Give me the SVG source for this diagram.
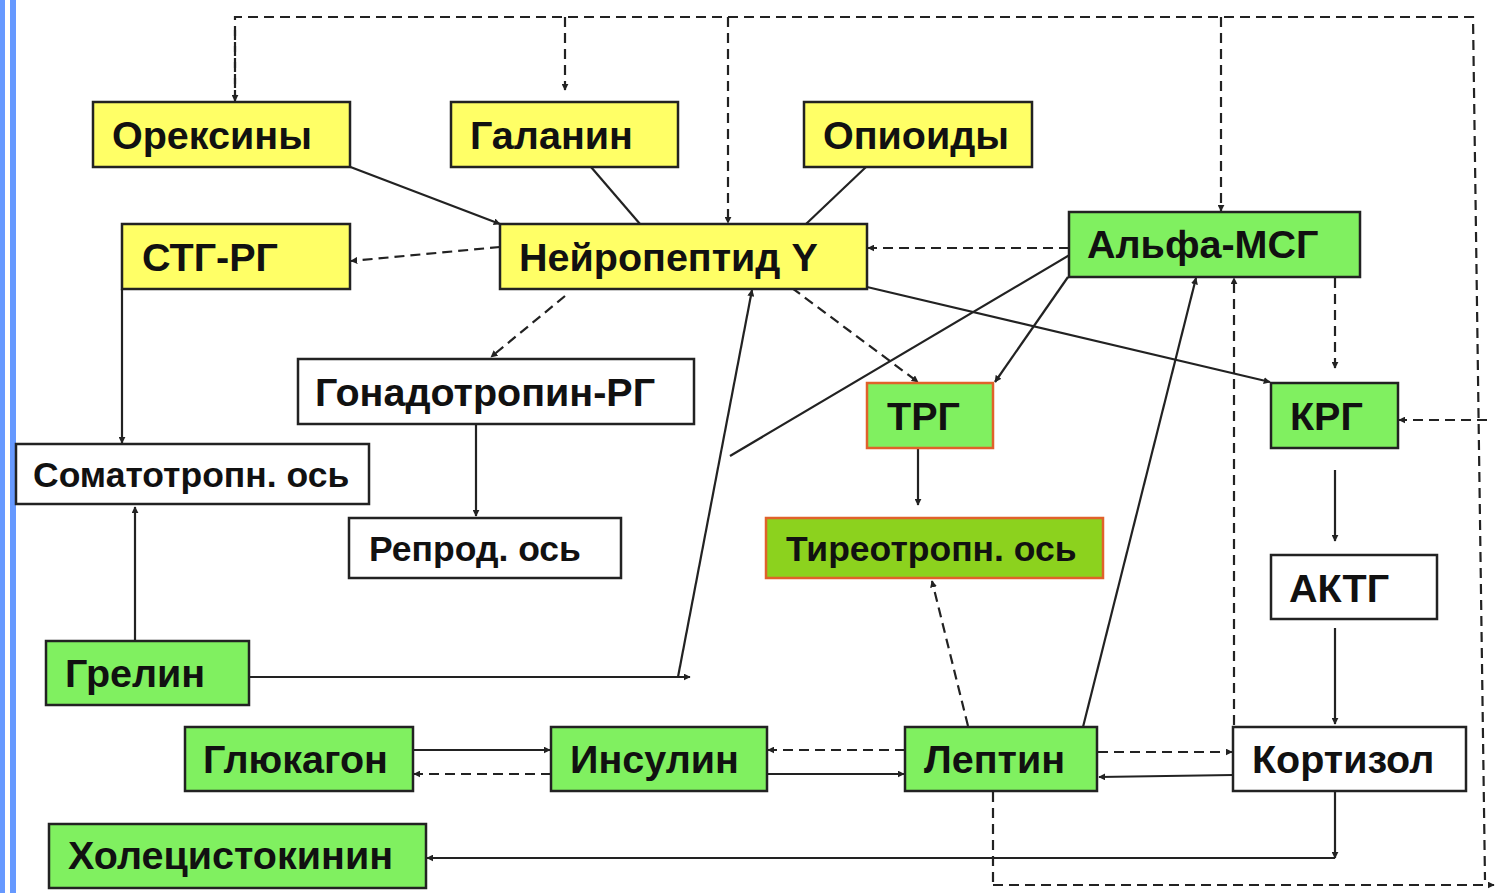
<svg xmlns="http://www.w3.org/2000/svg" width="1498" height="893" viewBox="0 0 1498 893">
<style>
.box{stroke:#222;stroke-width:2.5}
.y{fill:#FFFF66}
.g{fill:#80F060}
.w{fill:#FFFFFF}
.o{stroke:#E0622A}
.t{font-family:"Liberation Sans",Arial,sans-serif;font-weight:bold;font-size:39.5px;fill:#111}
.s{font-size:35.5px}
.c{fill:none;stroke:#222;stroke-width:2.2}
.d{stroke-dasharray:10 6}
</style>
<defs>
<marker id="a" viewBox="0 0 10 10" refX="9" refY="5" markerWidth="7" markerHeight="7" markerUnits="userSpaceOnUse" orient="auto">
<path d="M0,0 L10,5 L0,10 z" fill="#222"/>
</marker>
</defs>
<rect width="1498" height="893" fill="#FFFFFF"/>
<rect x="0" y="0" width="5" height="893" fill="#6699FF"/>
<rect x="10" y="0" width="6" height="893" fill="#6699FF"/>

<g id="connectors">
<polyline class="c d" points="235,100 235,17 1473,17 1485,880"/>
<line class="c d" x1="235" y1="30" x2="235" y2="101" marker-end="url(#a)"/>
<line class="c d" x1="565" y1="17" x2="565" y2="90" marker-end="url(#a)"/>
<line class="c d" x1="728" y1="17" x2="728" y2="223" marker-end="url(#a)"/>
<line class="c d" x1="1221" y1="17" x2="1221" y2="211" marker-end="url(#a)"/>
<line class="c d" x1="993" y1="792" x2="993" y2="885"/>
<line class="c d" x1="993" y1="885" x2="1494" y2="885" marker-end="url(#a)"/>
<line class="c d" x1="1487" y1="420" x2="1399" y2="420" marker-end="url(#a)"/>
<line class="c" x1="340" y1="163" x2="500" y2="224" marker-end="url(#a)"/>
<line class="c" x1="591" y1="167" x2="640" y2="224"/>
<line class="c" x1="866" y1="167" x2="806" y2="224"/>
<line class="c d" x1="500" y1="247" x2="351" y2="261" marker-end="url(#a)"/>
<line class="c d" x1="1069" y1="248" x2="868" y2="248" marker-end="url(#a)"/>
<line class="c d" x1="565" y1="296" x2="491" y2="357" marker-end="url(#a)"/>
<line class="c d" x1="792" y1="288" x2="918" y2="382" marker-end="url(#a)"/>
<line class="c" x1="867" y1="287" x2="1270" y2="382" marker-end="url(#a)"/>
<line class="c" x1="730" y1="456" x2="1078" y2="250" marker-end="url(#a)"/>
<line class="c" x1="1068" y1="277" x2="995" y2="382" marker-end="url(#a)"/>
<line class="c" x1="1083" y1="727" x2="1196" y2="278" marker-end="url(#a)"/>
<line class="c d" x1="1234" y1="725" x2="1234" y2="278" marker-end="url(#a)"/>
<line class="c d" x1="1335" y1="278" x2="1335" y2="368" marker-end="url(#a)"/>
<line class="c" x1="1335" y1="470" x2="1335" y2="541" marker-end="url(#a)"/>
<line class="c" x1="1335" y1="628" x2="1335" y2="724" marker-end="url(#a)"/>
<line class="c" x1="1335" y1="791" x2="1335" y2="858" marker-end="url(#a)"/>
<line class="c" x1="1335" y1="858" x2="427" y2="858" marker-end="url(#a)"/>
<line class="c d" x1="1098" y1="752" x2="1232" y2="752" marker-end="url(#a)"/>
<line class="c" x1="1233" y1="775" x2="1099" y2="777" marker-end="url(#a)"/>
<line class="c" x1="122" y1="289" x2="122" y2="443" marker-end="url(#a)"/>
<line class="c" x1="135" y1="641" x2="135" y2="507" marker-end="url(#a)"/>
<line class="c" x1="476" y1="424" x2="476" y2="516" marker-end="url(#a)"/>
<line class="c" x1="249" y1="677" x2="690" y2="677" marker-end="url(#a)"/>
<line class="c" x1="678" y1="677" x2="752" y2="290" marker-end="url(#a)"/>
<line class="c" x1="918" y1="448" x2="918" y2="505" marker-end="url(#a)"/>
<line class="c d" x1="968" y1="726" x2="932" y2="581" marker-end="url(#a)"/>
<line class="c" x1="413" y1="750" x2="550" y2="750" marker-end="url(#a)"/>
<line class="c d" x1="551" y1="774" x2="414" y2="774" marker-end="url(#a)"/>
<line class="c d" x1="905" y1="750" x2="768" y2="750" marker-end="url(#a)"/>
<line class="c" x1="767" y1="774" x2="904" y2="774" marker-end="url(#a)"/>
</g>

<g id="n-oreksiny"><rect class="box y" x="93" y="102" width="257" height="65"/><text class="t" x="112" y="149">Орексины</text></g>
<g id="n-galanin"><rect class="box y" x="451" y="102" width="227" height="65"/><text class="t" x="470" y="149">Галанин</text></g>
<g id="n-opioidy"><rect class="box y" x="804" y="102" width="228" height="65"/><text class="t" x="823" y="149">Опиоиды</text></g>
<g id="n-stg-rg"><rect class="box y" x="122" y="224" width="228" height="65"/><text class="t" x="142" y="271">СТГ-РГ</text></g>
<g id="n-npy"><rect class="box y" x="500" y="224" width="367" height="65"/><text class="t" x="519" y="271">Нейропептид Y</text></g>
<g id="n-alpha-msg"><rect class="box g" x="1069" y="212" width="291" height="65"/><text class="t" x="1087" y="258">Альфа-МСГ</text></g>
<g id="n-gnrh"><rect class="box w" x="298" y="359" width="396" height="65"/><text class="t" x="315" y="406">Гонадотропин-РГ</text></g>
<g id="n-somato"><rect class="box w" x="16" y="444" width="353" height="60"/><text class="t s" x="33" y="487">Соматотропн. ось</text></g>
<g id="n-reprod"><rect class="box w" x="349" y="518" width="272" height="60"/><text class="t s" x="369" y="561">Репрод. ось</text></g>
<g id="n-trg"><rect class="box g o" x="867" y="383" width="126" height="65"/><text class="t" x="887" y="430">ТРГ</text></g>
<g id="n-krg"><rect class="box g" x="1271" y="383" width="127" height="65"/><text class="t" x="1290" y="430">КРГ</text></g>
<g id="n-thyro"><rect class="box o" x="766" y="518" width="337" height="60" style="fill:#8CD21E"/><text class="t s" x="786" y="561">Тиреотропн. ось</text></g>
<g id="n-aktg"><rect class="box w" x="1271" y="555" width="166" height="64"/><text class="t" x="1289" y="602">АКТГ</text></g>
<g id="n-grelin"><rect class="box g" x="46" y="641" width="203" height="64"/><text class="t" x="65" y="687">Грелин</text></g>
<g id="n-glukagon"><rect class="box g" x="185" y="727" width="228" height="64"/><text class="t" x="203" y="773">Глюкагон</text></g>
<g id="n-insulin"><rect class="box g" x="551" y="727" width="216" height="64"/><text class="t" x="570" y="773">Инсулин</text></g>
<g id="n-leptin"><rect class="box g" x="905" y="727" width="192" height="64"/><text class="t" x="924" y="773">Лептин</text></g>
<g id="n-kortizol"><rect class="box w" x="1233" y="727" width="233" height="64"/><text class="t" x="1252" y="773">Кортизол</text></g>
<g id="n-holecisto"><rect class="box g" x="49" y="824" width="377" height="64"/><text class="t" x="68" y="869">Холецистокинин</text></g>
</svg>
